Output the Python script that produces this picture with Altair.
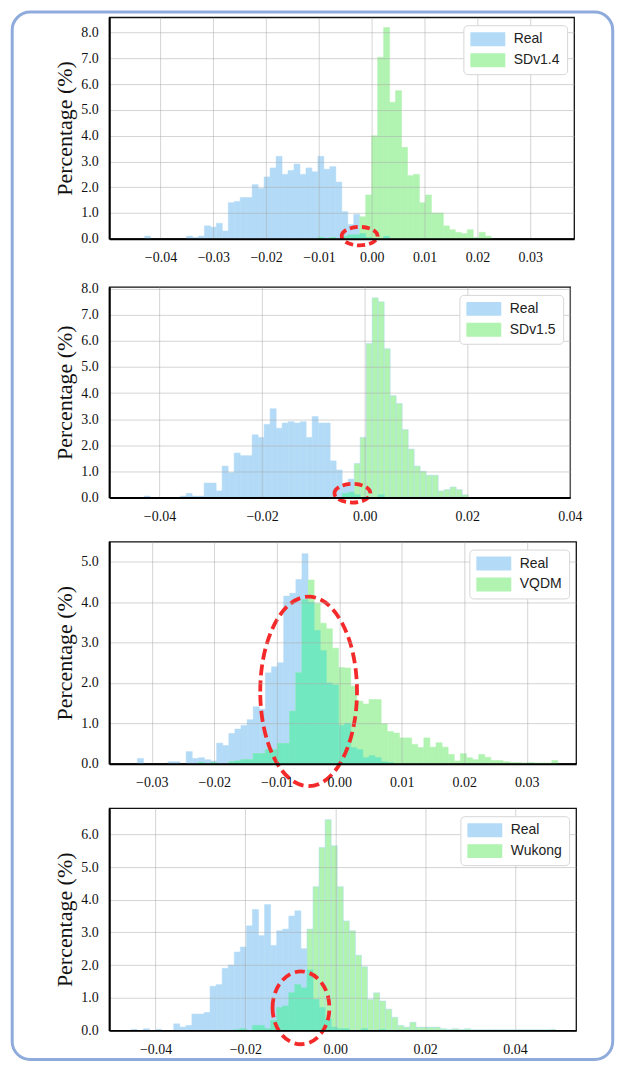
import altair as alt
import pandas as pd

# ---------------- data (percent per histogram bin) ----------------
P1_NAME = "SDv1.4"
P1_START, P1_WIDTH = -0.0430, 0.001131
P1_REAL = [0.1,0,0,0,0,0,0,0.1,0.05,0.1, 0.5,0.45,0.6,0.3,1.4,1.45,1.6,1.6,2.1,1.95,
           2.4,2.75,3.2,2.5,2.65,2.9,2.5,2.75,2.6,3.2, 2.7,2.8,2.2,1.05,0.55,0.95,0.2,0.05,0,0,
           0.1,0,0,0,0,0,0,0,0,0, 0,0,0,0,0,0,0,0]
P1_GEN = [0,0,0,0,0,0,0,0,0,0, 0,0,0,0,0,0,0,0,0,0, 0,0,0,0,0,0,0,0,0,0.05,
          0,0.05,0,0.1,0.15,0.15,0.85,1.7,4.0,7.05, 8.2,5.3,5.75,3.55,2.45,2.5,1.4,1.7,1.0,1.0,
          0.5,0.35,0.25,0.2,0.35,0.05,0.25,0.1]

P2_NAME = "SDv1.5"
P2_START, P2_WIDTH = -0.0430, 0.00117
P2_REAL = [0.05,0,0,0,0,0,0.05,0.15,0.05,0.05, 0.55,0.55,0.25,1.2,0.95,1.7,1.6,1.6,2.4,2.3,
           2.8,3.4,2.65,2.85,2.9,2.85,2.9,2.3,3.1,2.85, 2.85,1.4,1.05,0.45,0.7,0.1,0,0,0,0.1,
           0,0,0,0,0,0,0,0,0,0, 0,0,0,0]
P2_GEN = [0,0,0,0,0,0,0,0,0,0, 0,0,0,0,0,0,0,0,0,0, 0,0,0,0,0,0,0,0,0,0,
          0,0,0,0.15,0.2,1.3,2.3,5.9,7.65,7.5, 5.7,3.9,3.6,2.6,1.85,1.2,1.0,0.85,0.85,0.25,
          0.3,0.4,0.3,0.1]

P3_NAME = "VQDM"
P3_START, P3_WIDTH = -0.03229, 0.000975
P3_REAL = [0.13,0,0,0,0,0.05,0.05,0,0.3,0.13, 0.15,0.1,0.07,0.51,0.45,0.75,0.86,0.95,1.09,1.41,
           1.35,2.25,2.4,2.5,4.15,4.22,4.56,5.2,4.0,3.3, 2.8,2.0,1.95,0.95,1.0,0.4,0.35,0.15,0.2,0.15,
           0.05,0.03,0,0,0,0,0,0,0,0, 0,0,0,0,0,0,0,0,0,0, 0,0,0,0,0,0,0,0,0]
P3_GEN = [0,0,0,0,0,0,0,0,0,0, 0.03,0,0.03,0,0,0.05,0.07,0.1,0.1,0.25,
          0.25,0.35,0.35,0.5,0.5,1.3,2.25,4.06,4.55,3.97, 3.48,3.34,2.86,2.38,2.37,1.92,1.55,1.48,1.59,1.59,
          0.99,0.8,0.76,0.64,0.64,0.48,0.4,0.64,0.41,0.52, 0.41,0.23,0.07,0.25,0.15,0.1,0.23,0.16,0.08,0.08,
          0.05,0.03,0.03,0.02,0.03,0.02,0.02,0.02,0.08]

P4_NAME = "Wukong"
P4_START, P4_WIDTH = -0.04539, 0.001348
P4_REAL = [0.03,0,0.05,0,0.03,0,0,0.2,0.1,0.15, 0.5,0.5,0.55,1.35,1.4,1.9,2.0,2.4,2.55,3.2,
           3.7,2.9,3.85,2.6,3.05,3.1,3.5,3.66,2.5,1.85, 0.95,0.7,0.35,0.1,0.05,0.05,0,0,0.05,0,
           0,0.03,0,0,0,0,0,0,0,0, 0,0,0,0,0,0,0,0,0,0, 0,0,0,0,0,0,0,0,0,0]
P4_GEN = [0,0,0,0,0,0,0,0,0,0, 0,0,0,0,0,0,0,0.02,0.05,0,
          0.15,0.15,0.05,0.3,0.7,0.75,1.15,1.4,1.3,3.1, 4.4,5.6,6.45,5.65,4.4,3.35,3.05,2.3,1.95,0.95,
          1.15,0.9,0.65,0.4,0.15,0.1,0.25,0.1,0.1,0.1, 0.1,0.05,0.03,0.05,0.03,0.05,0.02,0.02,0.02,0.02,
          0.02,0.02,0.02,0.02,0.02,0.02,0.02,0.02,0.02,0.03]

# annotation ellipses: centre (data units), pixel width / height
P1_ELL = (-0.00230, 0.10, 36, 18.5)
P2_ELL = (-0.00239, 0.16, 36, 18.7)
P3_ELL = (-0.00490, 1.79, 97, 190)
P4_ELL = (-0.00763, 0.69, 57, 73)

P1_XDOM, P1_XTICKS = [-0.0497, 0.0383], [-0.04, -0.03, -0.02, -0.01, 0.0, 0.01, 0.02, 0.03]
P2_XDOM, P2_XTICKS = [-0.0498, 0.04005], [-0.04, -0.02, 0.0, 0.02, 0.04]
P3_XDOM, P3_XTICKS = [-0.0368, 0.0379], [-0.03, -0.02, -0.01, 0.0, 0.01, 0.02, 0.03]
P4_XDOM, P4_XTICKS = [-0.0503, 0.0536], [-0.04, -0.02, 0.0, 0.02, 0.04]
P1_YTICKS = [0, 1, 2, 3, 4, 5, 6, 7, 8]
P2_YTICKS = [0, 1, 2, 3, 4, 5, 6, 7, 8]
P3_YTICKS = [0, 1, 2, 3, 4, 5]
P4_YTICKS = [0, 1, 2, 3, 4, 5, 6]

# ---------------- style ----------------
BLUE = "#b3dbf7"
GREEN = "#b1f3b1"
TEAL = "#72e8c0"
RED = "#f42a2a"
FRAME = "#8eabdc"
SERIF = "Liberation Serif"
SANS = "Liberation Sans"
LEFT = 108.3
TOP = 14.7


def panel(name, start, width, real, gen, xdom, xticks, ymax, yticks, w, h, ell, dash, frame=False):
    n = len(real)
    rows, ov = [], []
    for i in range(n):
        a, b = start + i * width, start + (i + 1) * width
        if real[i] > 0:
            rows.append({"x0": a, "x1": b, "series": "Real", "value": real[i], "base": 0.0})
        if gen[i] > 0:
            rows.append({"x0": a, "x1": b, "series": name, "value": gen[i], "base": 0.0})
        m = min(real[i], gen[i])
        if m > 0:
            ov.append({"x0": a, "x1": b, "value": m, "base": 0.0})
    long_df = pd.DataFrame(rows)
    ov_df = pd.DataFrame(ov)

    xscale = alt.Scale(domain=xdom, nice=False, zero=False)
    yscale = alt.Scale(domain=[0, ymax], nice=False, zero=True)
    xaxis = alt.Axis(values=xticks, format=".2f", title=None, labelFont=SERIF, labelFontSize=14,
                     labelColor="#111", labelPadding=12, ticks=False, domainColor="#000",
                     domainWidth=2, grid=True, gridColor="#a8a8a8", gridOpacity=0.5, gridWidth=1,
                     labelFlush=False, labelOverlap=False, zindex=1)
    yaxis = alt.Axis(values=yticks, format=".1f", title="Percentage (%)",
                     titleFont=SERIF, titleFontSize=22, titleFontWeight="normal", titleColor="#111",
                     titleX=-45, titleY=h / 2, titleAngle=270, titleBaseline="middle",
                     titleAlign="center", labelFont=SERIF, labelFontSize=14, labelColor="#111",
                     labelPadding=11, ticks=False, domainColor="#000", domainWidth=2, grid=True,
                     gridColor="#a8a8a8", gridOpacity=0.5, gridWidth=1, labelOverlap=False,
                     labelFlush=False, zindex=1)
    X = alt.X("x0:Q", scale=xscale, axis=xaxis)
    Y = alt.Y("value:Q", scale=yscale, axis=yaxis)
    cscale = alt.Scale(domain=["Real", name], range=[BLUE, GREEN])
    legend = alt.Legend(orient="top-right", offset=7.5, title=None,
                        symbolType="M-2.5,-1H2.5V1H-2.5Z", symbolSize=196, symbolOffset=10.5,
                        symbolStrokeWidth=0, symbolOpacity=1, labelFont=SANS, labelFontSize=14,
                        labelColor="#222", labelOffset=19, rowPadding=7, padding=7,
                        fillColor="white", strokeColor="#d6d6d6", cornerRadius=4, zindex=2)

    bars = alt.Chart(long_df).mark_bar(strokeWidth=0.5).encode(
        x=X, x2="x1:Q", y=Y, y2="base:Q",
        color=alt.Color("series:N", scale=cscale, legend=legend),
        stroke=alt.Stroke("series:N", scale=cscale, legend=None),
    )
    over = alt.Chart(ov_df).mark_bar(color=TEAL, stroke=TEAL, strokeWidth=0.5).encode(
        x=X, x2="x1:Q", y=Y, y2="base:Q")
    cx, cy, ew, eh = ell
    r = eh / ew
    path = f"M-1,0A1,{r:.4f},0,1,1,1,0A1,{r:.4f},0,1,1,-1,0Z"
    ell_df = pd.DataFrame({"x0": [cx], "value": [cy]})
    ellipse = alt.Chart(ell_df).mark_point(shape=path, size=ew * ew, filled=False, stroke=RED,
                                           strokeWidth=3.8, strokeDash=dash, opacity=1).encode(
        x=X, y=Y)
    layers = [bars, over, ellipse]
    if frame:
        fr = alt.Chart(pd.DataFrame({"k": [0]})).mark_rect(
            fill="white", fillOpacity=0, stroke=FRAME, strokeWidth=3, cornerRadius=18).encode(
            x=alt.value(11 - LEFT), x2=alt.value(613 - LEFT),
            y=alt.value(9.5 - TOP), y2=alt.value(1059.5 - TOP))
        layers.append(fr)
    return alt.layer(*layers).properties(width=w, height=h)


p1 = panel(P1_NAME, P1_START, P1_WIDTH, P1_REAL, P1_GEN, P1_XDOM, P1_XTICKS, 8.6, P1_YTICKS,
           466, 222, P1_ELL, [8, 4], frame=True)
p2 = panel(P2_NAME, P2_START, P2_WIDTH, P2_REAL, P2_GEN, P2_XDOM, P2_XTICKS, 8.07, P2_YTICKS,
           462, 211, P2_ELL, [8, 4])
p3 = panel(P3_NAME, P3_START, P3_WIDTH, P3_REAL, P3_GEN, P3_XDOM, P3_XTICKS, 5.5, P3_YTICKS,
           468, 222.7, P3_ELL, [11, 5])
p4 = panel(P4_NAME, P4_START, P4_WIDTH, P4_REAL, P4_GEN, P4_XDOM, P4_XTICKS, 6.8, P4_YTICKS,
           468, 222.7, P4_ELL, [10, 5])

inner = alt.vconcat(p2, p3, p4, spacing=44.3, bounds="flush").resolve_scale(
    color="independent", x="independent", y="independent")
chart = alt.vconcat(p1, inner, spacing=48.3, bounds="flush").resolve_scale(
    color="independent", x="independent", y="independent").properties(
    padding={"left": 1.5, "top": 0, "right": 0, "bottom": 0},
    background="white",
).configure_view(stroke="#111", strokeWidth=1.3)

chart.save("out.html", embed_options={"renderer": "svg", "actions": False})
